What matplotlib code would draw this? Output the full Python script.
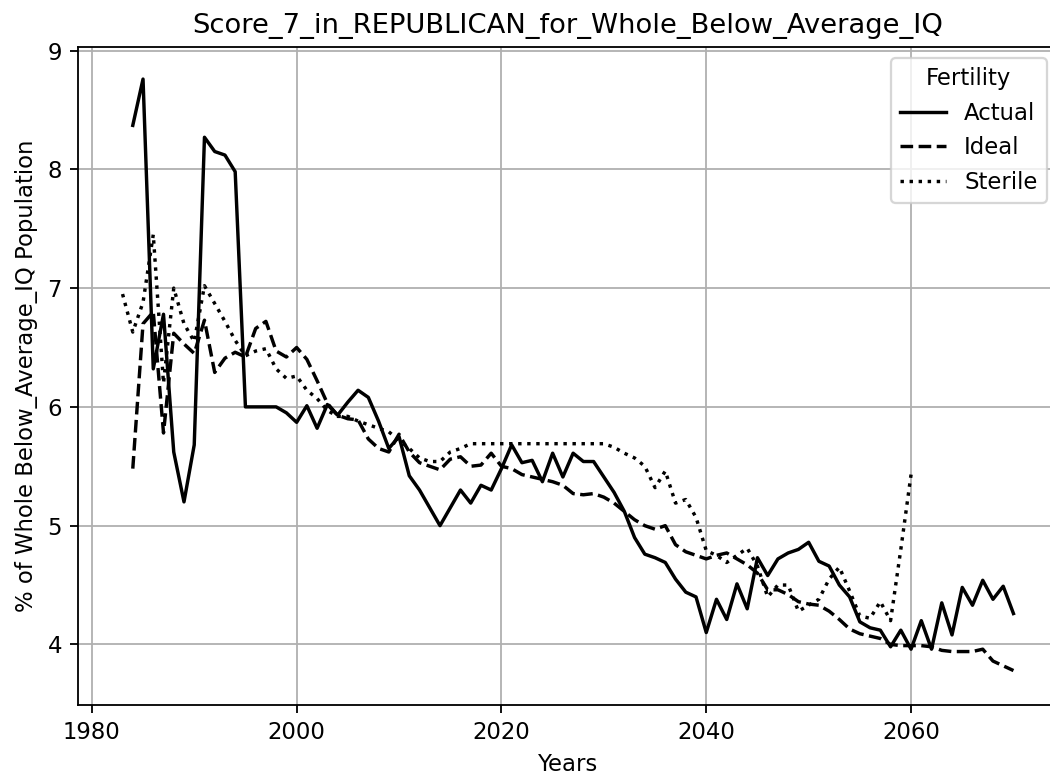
import matplotlib
matplotlib.use("Agg")
import matplotlib.pyplot as plt
import numpy as np

years_actual = list(range(1984, 2071))
actual = [8.37, 8.76, 6.32, 6.78, 5.62, 5.20, 5.68, 8.27, 8.15, 8.12,
          7.98, 6.00, 6.00, 6.00, 6.00, 5.95, 5.87, 6.01, 5.82, 6.02,
          5.93, 6.04, 6.14, 6.08, 5.88, 5.65, 5.75, 5.42, 5.30, 5.15,
          5.00, 5.15, 5.30, 5.19, 5.34, 5.30, 5.48, 5.68, 5.53, 5.55,
          5.37, 5.61, 5.41, 5.61, 5.54, 5.54, 5.41, 5.28, 5.12, 4.90,
          4.76, 4.73, 4.69, 4.55, 4.44, 4.40, 4.10, 4.38, 4.21, 4.51,
          4.30, 4.73, 4.58, 4.72, 4.77, 4.80, 4.86, 4.70, 4.66, 4.50,
          4.40, 4.19, 4.14, 4.12, 3.98, 4.12, 3.96, 4.20, 3.96, 4.35,
          4.08, 4.48, 4.33, 4.54, 4.38, 4.49, 4.26]

years_ideal = list(range(1984, 2071))
ideal = [5.48, 6.70, 6.80, 5.78, 6.62, 6.53, 6.45, 6.73, 6.29, 6.41,
         6.46, 6.42, 6.66, 6.72, 6.47, 6.42, 6.50, 6.40, 6.22, 6.03,
         5.93, 5.90, 5.89, 5.73, 5.65, 5.62, 5.77, 5.62, 5.53, 5.50,
         5.47, 5.56, 5.58, 5.50, 5.51, 5.61, 5.50, 5.48, 5.43, 5.41,
         5.39, 5.37, 5.34, 5.27, 5.26, 5.27, 5.24, 5.19, 5.12, 5.05,
         5.00, 4.97, 5.00, 4.84, 4.78, 4.75, 4.72, 4.75, 4.77, 4.72,
         4.67, 4.60, 4.46, 4.46, 4.42, 4.36, 4.34, 4.33, 4.28, 4.21,
         4.13, 4.09, 4.07, 4.05, 4.00, 3.99, 3.99, 3.99, 3.98, 3.95,
         3.94, 3.94, 3.94, 3.96, 3.86, 3.82, 3.78]

years_sterile = list(range(1983, 2061))
sterile = [6.95, 6.63, 6.88, 7.45, 6.20, 7.00, 6.70, 6.55, 7.02, 6.87,
           6.72, 6.56, 6.43, 6.47, 6.49, 6.32, 6.24, 6.26, 6.14, 6.07,
           5.97, 5.92, 5.92, 5.88, 5.85, 5.82, 5.79, 5.72, 5.65, 5.57,
           5.54, 5.54, 5.62, 5.65, 5.69, 5.69, 5.69, 5.69, 5.69, 5.69,
           5.69, 5.69, 5.69, 5.69, 5.69, 5.69, 5.69, 5.69, 5.66, 5.61,
           5.57, 5.50, 5.32, 5.46, 5.19, 5.22, 5.07, 4.79, 4.75, 4.69,
           4.75, 4.81, 4.66, 4.40, 4.50, 4.50, 4.28, 4.33, 4.38, 4.55,
           4.65, 4.45, 4.24, 4.22, 4.36, 4.20, 4.80, 5.43]

title = "Score_7_in_REPUBLICAN_for_Whole_Below_Average_IQ"
xlabel = "Years"
ylabel = "% of Whole Below_Average_IQ Population"
legend_title = "Fertility"

DPI = 164
W, H = 1050, 782
fig = plt.figure(figsize=(W / DPI, H / DPI), dpi=DPI)
# the reference axes run slightly past the right edge of the picture
left_px, right_px, top_px, bottom_px = 78, 1058, 47, 705
ax = fig.add_axes([left_px / W, 1 - bottom_px / H,
                   (right_px - left_px) / W, (bottom_px - top_px) / H])

ax.plot(years_actual, actual, color="black", linestyle="-", label="Actual")
ax.plot(years_ideal, ideal, color="black", linestyle="--", label="Ideal")
ax.plot(years_sterile, sterile, color="black", linestyle=":", label="Sterile")

ax.set_ylim(3.49, 9.03)
ax.set_title(title)
ax.set_xlabel(xlabel)
ax.set_ylabel(ylabel)
ax.grid(True)
ax.legend(title=legend_title, loc="upper right")

fig.savefig("out.png", dpi=DPI)
